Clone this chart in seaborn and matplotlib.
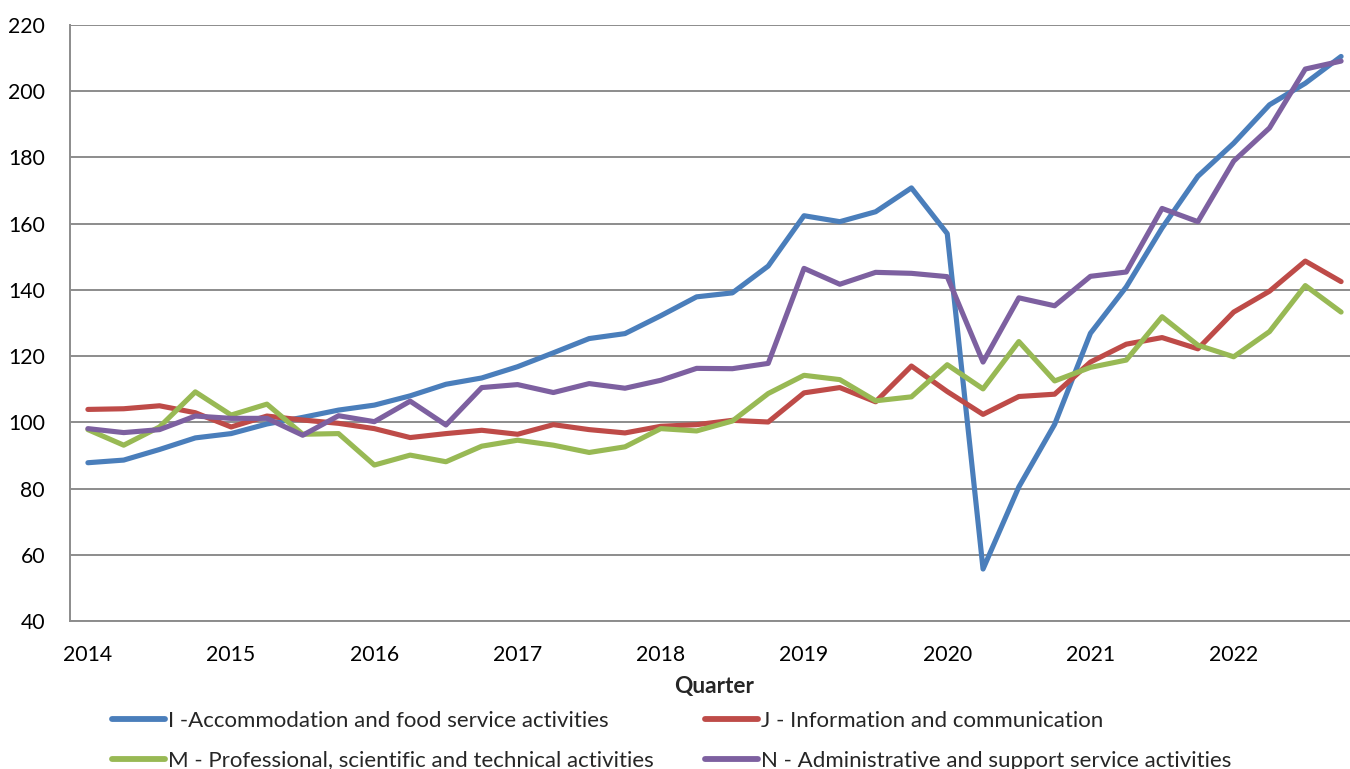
import numpy as np
import pandas as pd
import matplotlib
matplotlib.use("Agg")
import matplotlib.pyplot as plt
import seaborn as sns
from matplotlib.lines import Line2D

years = ["2014", "2015", "2016", "2017", "2018", "2019", "2020", "2021", "2022"]
quarters = [f"{y} Q{q}" for y in years for q in range(1, 5)]

series_names = [
    "I -Accommodation and food service activities",
    "J - Information and communication",
    "M - Professional, scientific and technical activities",
    "N - Administrative and support service activities",
]

acc_food = [87.8, 88.6, 91.8, 95.3, 96.6, 99.5, 101.5, 103.7, 105.2, 108.0, 111.5, 113.4,
            116.8, 121.0, 125.3, 126.8, 132.2, 137.9, 139.1, 147.2, 162.4, 160.6, 163.6, 170.8,
            157.0, 55.7, 80.5, 99.4, 126.9, 140.9, 158.7, 174.3, 184.3, 195.9, 202.4, 210.5]
info_comm = [103.9, 104.1, 105.0, 102.9, 98.6, 101.9, 100.7, 99.7, 98.1, 95.4, 96.6, 97.6,
             96.4, 99.3, 97.8, 96.8, 98.8, 99.3, 100.6, 100.1, 108.9, 110.5, 106.2, 117.0,
             109.3, 102.4, 107.8, 108.5, 118.2, 123.6, 125.6, 122.2, 133.3, 139.6, 148.7, 142.5]
prof_sci = [97.8, 93.1, 98.6, 109.2, 102.2, 105.5, 96.4, 96.6, 87.1, 90.1, 88.1, 92.8,
            94.6, 93.1, 90.9, 92.6, 98.1, 97.4, 100.4, 108.7, 114.2, 112.9, 106.5, 107.7,
            117.4, 110.1, 124.4, 112.5, 116.6, 118.8, 131.9, 123.3, 119.8, 127.4, 141.3, 133.3]
admin_sup = [98.1, 96.9, 97.8, 101.9, 101.2, 101.2, 96.1, 102.0, 100.2, 106.4, 99.2, 110.5,
             111.4, 109.0, 111.7, 110.3, 112.7, 116.3, 116.2, 117.8, 146.5, 141.7, 145.3, 145.0,
             144.0, 118.2, 137.6, 135.2, 144.1, 145.4, 164.6, 160.6, 178.9, 188.9, 206.7, 209.1]

colors = ["#4A7EBB", "#BE4B48", "#98B954", "#7D60A0"]

frames = []
for name, vals in zip(series_names, [acc_food, info_comm, prof_sci, admin_sup]):
    frames.append(pd.DataFrame({"idx": np.arange(len(quarters)), "quarter": quarters,
                                "value": vals, "series": name}))
df = pd.concat(frames, ignore_index=True)

sns.set_theme(style="white")
plt.rcParams["font.family"] = ["Lato", "DejaVu Sans"]

W, H = 1350, 769
fig = plt.figure(figsize=(W / 100, H / 100), dpi=100)
ax = fig.add_axes([70 / W, 1 - 621 / H, 1289 / W, (621 - 25) / H])

sns.lineplot(data=df, x="idx", y="value", hue="series", hue_order=series_names,
             palette=colors, linewidth=3.7, ax=ax, legend=False, sort=False)

n = len(quarters)
ax.set_xlim(-0.5, n - 0.5)
ax.set_ylim(40, 220)
ax.set_yticks(np.arange(40, 221, 20))
ax.set_xticks(np.arange(0, n, 4))
ax.set_xticklabels(years)
ax.set_xticks(np.arange(-0.5, n, 1), minor=True)
ax.tick_params(axis="x", which="major", length=0, pad=17, labelsize=15.3, colors="black")
ax.tick_params(axis="x", which="minor", length=7, width=1.3, color="#8C8C8C", direction="out")
ax.tick_params(axis="y", which="major", length=7, width=1.3, color="#8C8C8C", pad=11,
               labelsize=15.3, labelcolor="black")
ax.yaxis.grid(True, color="#8C8C8C", linewidth=1.4)
ax.set_axisbelow(True)
for s in ["top", "right"]:
    ax.spines[s].set_visible(False)
for s in ["left", "bottom"]:
    ax.spines[s].set_color("#8C8C8C")
    ax.spines[s].set_linewidth(1.4)
ax.set_ylabel("")
ax.set_xlabel("Quarter", fontsize=16.3, fontweight="bold", labelpad=8)

handles = [Line2D([0], [0], color=c, linewidth=4.2) for c in colors]
order = [0, 2, 1, 3]
fig.legend([handles[i] for i in order], [series_names[i] for i in order],
           loc="upper left", bbox_to_anchor=(112 / W, 1 - 711 / H), ncol=2,
           frameon=False, fontsize=16, handlelength=2.4, handletextpad=0.13,
           columnspacing=2.3, labelspacing=0.88, borderpad=0, borderaxespad=0)

fig.savefig("out.png", dpi=100)
